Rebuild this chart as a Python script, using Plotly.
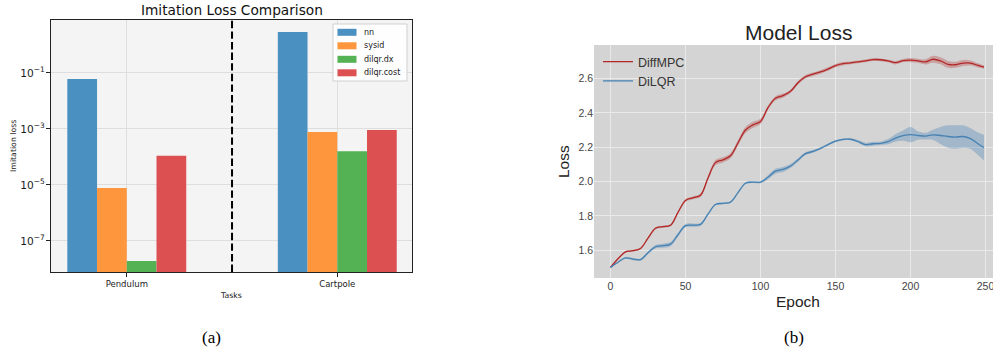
import plotly.graph_objects as go

# ---------------- data: (a) imitation loss ----------------
tasks = ["Pendulum", "Cartpole"]
methods = ["nn", "sysid", "dilqr.dx", "dilqr.cost"]
loss_nn = [6.1e-2, 2.9]
loss_sysid = [7.8e-6, 7.8e-4]
loss_dilqr_dx = [1.9e-8, 1.6e-4]
loss_dilqr_cost = [1.1e-4, 9.2e-4]
bar_colors = ["rgb(74,144,193)", "rgb(253,150,60)", "rgb(84,177,84)", "rgb(220,80,81)"]

# ---------------- data: (b) model loss ----------------
epochs = [0, 5, 10, 15, 20, 25, 30, 35, 40, 45, 50, 55, 60, 65, 70, 75, 80, 85, 90, 95,
          100, 105, 110, 115, 120, 125, 130, 135, 140, 145, 150, 155, 160, 165, 170, 175,
          180, 185, 190, 195, 200, 205, 210, 215, 220, 225, 230, 235, 240, 245, 249]
diffmpc_mean = [1.50, 1.55, 1.59, 1.597, 1.61, 1.67, 1.728, 1.737, 1.745, 1.82, 1.89, 1.905,
                1.92, 2.02, 2.11, 2.126, 2.15, 2.225, 2.30, 2.33, 2.35, 2.43, 2.485, 2.50,
                2.525, 2.575, 2.61, 2.625, 2.638, 2.655, 2.675, 2.686, 2.691, 2.697, 2.703,
                2.710, 2.709, 2.703, 2.692, 2.704, 2.707, 2.703, 2.697, 2.712, 2.703, 2.682,
                2.680, 2.690, 2.690, 2.676, 2.666]
diffmpc_std = [0.003, 0.004, 0.005, 0.005, 0.005, 0.006, 0.006, 0.006, 0.006, 0.006, 0.008,
               0.008, 0.010, 0.012, 0.015, 0.015, 0.015, 0.015, 0.018, 0.018, 0.015, 0.012,
               0.012, 0.012, 0.010, 0.010, 0.010, 0.010, 0.010, 0.010, 0.010, 0.010, 0.008,
               0.008, 0.008, 0.008, 0.008, 0.008, 0.010, 0.010, 0.012, 0.012, 0.015, 0.020,
               0.020, 0.020, 0.018, 0.018, 0.015, 0.012, 0.010]
dilqr_mean = [1.50, 1.53, 1.555, 1.548, 1.545, 1.585, 1.62, 1.626, 1.635, 1.69, 1.743, 1.746,
              1.75, 1.81, 1.866, 1.873, 1.88, 1.935, 1.99, 1.996, 1.996, 2.025, 2.06, 2.07,
              2.09, 2.125, 2.162, 2.175, 2.193, 2.215, 2.235, 2.245, 2.246, 2.233, 2.215,
              2.220, 2.222, 2.232, 2.253, 2.267, 2.273, 2.268, 2.264, 2.272, 2.268, 2.262,
              2.259, 2.262, 2.25, 2.22, 2.198]
dilqr_std = [0.003, 0.004, 0.005, 0.006, 0.006, 0.008, 0.010, 0.012, 0.012, 0.010, 0.010,
             0.010, 0.008, 0.006, 0.005, 0.005, 0.005, 0.005, 0.005, 0.005, 0.006, 0.012,
             0.015, 0.015, 0.012, 0.010, 0.008, 0.008, 0.006, 0.006, 0.006, 0.006, 0.006,
             0.008, 0.010, 0.012, 0.010, 0.015, 0.022, 0.030, 0.045, 0.025, 0.020, 0.030,
             0.050, 0.065, 0.068, 0.065, 0.060, 0.065, 0.075]
x_ticks_b = [0, 50, 100, 150, 200, 250]

LEFT_FONT = "DejaVu Sans"
RIGHT_FONT = "Liberation Sans"

fig = go.Figure()

# ---- (a) bars ----
for name, vals, col in zip(methods, [loss_nn, loss_sysid, loss_dilqr_dx, loss_dilqr_cost], bar_colors):
    fig.add_trace(go.Bar(x=tasks, y=vals, name=name, marker=dict(color=col, line=dict(width=0)),
                         xaxis="x", yaxis="y", showlegend=False))

# ---- (b) lines with bands ----
def band(mean, std, line_col, fill_col, name):
    upper = [m + s for m, s in zip(mean, std)]
    lower = [m - s for m, s in zip(mean, std)]
    fig.add_trace(go.Scatter(x=epochs, y=upper, mode="lines", line=dict(width=0, shape="spline"),
                             showlegend=False, hoverinfo="skip", xaxis="x2", yaxis="y2"))
    fig.add_trace(go.Scatter(x=epochs, y=lower, mode="lines", line=dict(width=0, shape="spline"),
                             fill="tonexty", fillcolor=fill_col, showlegend=False,
                             hoverinfo="skip", xaxis="x2", yaxis="y2"))
    fig.add_trace(go.Scatter(x=epochs, y=mean, mode="lines", name=name,
                             line=dict(color=line_col, width=1.3, shape="spline"),
                             xaxis="x2", yaxis="y2", legend="legend2"))

band(diffmpc_mean, diffmpc_std, "rgb(178,40,40)", "rgba(178,40,40,0.3)", "DiffMPC")
band(dilqr_mean, dilqr_std, "rgb(70,130,180)", "rgba(70,130,180,0.35)", "DiLQR")

W, H = 993, 351
def px_x(p):
    return p / W
def px_y(p):
    return (H - p) / H

shapes = [
    dict(type="rect", xref="x domain", yref="y domain", x0=0, x1=1, y0=0, y1=1,
         fillcolor="#f4f4f4", line=dict(width=0), layer="below"),
    dict(type="line", xref="x", yref="y domain", x0=0.5, x1=0.5, y0=0, y1=1,
         line=dict(color="black", width=2, dash="7.4px,3.2px")),
    # legend box for (a)
    dict(type="rect", xref="paper", yref="paper", x0=px_x(333), x1=px_x(407),
         y0=px_y(81), y1=px_y(24), fillcolor="rgba(255,255,255,0.85)",
         line=dict(color="#d0d0d0", width=1)),
]
annotations = []
for i, (name, col) in enumerate(zip(methods, bar_colors)):
    cy = 32.3 + i * 13.5
    shapes.append(dict(type="rect", xref="paper", yref="paper", x0=px_x(337.5), x1=px_x(356.5),
                       y0=px_y(cy + 3.5), y1=px_y(cy - 3.5), fillcolor=col, line=dict(width=0)))
    annotations.append(dict(text=name, x=px_x(362), y=px_y(cy), xref="paper", yref="paper",
                            showarrow=False, xanchor="left", yanchor="middle",
                            font=dict(family=LEFT_FONT, size=8, color="#222")))

annotations += [
    dict(text="Imitation Loss Comparison", x=px_x(232), y=px_y(10), xref="paper", yref="paper",
         showarrow=False, font=dict(family=LEFT_FONT, size=13.7, color="#111"),
         xanchor="center", yanchor="middle"),
    dict(text="Imitation loss", x=px_x(13), y=px_y(146), xref="paper", yref="paper",
         showarrow=False, textangle=-90, font=dict(family=LEFT_FONT, size=7.8, color="#222"),
         xanchor="center", yanchor="middle"),
    dict(text="Tasks", x=px_x(231), y=px_y(295), xref="paper", yref="paper",
         showarrow=False, font=dict(family=LEFT_FONT, size=7.8, color="#222"),
         xanchor="center", yanchor="middle"),
    dict(text="Model Loss", x=px_x(798), y=px_y(32), xref="paper", yref="paper",
         showarrow=False, font=dict(family=RIGHT_FONT, size=21, color="#222"),
         xanchor="center", yanchor="middle"),
    dict(text="Loss", x=px_x(563), y=px_y(162), xref="paper", yref="paper",
         showarrow=False, textangle=-90, font=dict(family=RIGHT_FONT, size=15.5, color="#222"),
         xanchor="center", yanchor="middle"),
    dict(text="Epoch", x=px_x(798), y=px_y(301), xref="paper", yref="paper",
         showarrow=False, font=dict(family=RIGHT_FONT, size=15.5, color="#222"),
         xanchor="center", yanchor="middle"),
    dict(text="(a)", x=px_x(211), y=px_y(337), xref="paper", yref="paper",
         showarrow=False, font=dict(family="Liberation Serif", size=17, color="black"),
         xanchor="center", yanchor="middle"),
    dict(text="(b)", x=px_x(794), y=px_y(337), xref="paper", yref="paper",
         showarrow=False, font=dict(family="Liberation Serif", size=17, color="black"),
         xanchor="center", yanchor="middle"),
]

fig.update_layout(
    width=W, height=H,
    margin=dict(l=0, r=0, t=0, b=0),
    paper_bgcolor="white",
    plot_bgcolor="#d4d4d4",
    barmode="group",
    bargap=0.435,
    bargroupgap=0,
    showlegend=True,
    xaxis=dict(domain=[px_x(51), px_x(412)], anchor="y", type="category",
               range=[-0.36, 1.355], showline=True, mirror=True, linecolor="#222",
               linewidth=1.2, ticks="outside", ticklen=3.5, tickcolor="#222",
               showgrid=True, gridcolor="#dedede", gridwidth=1,
               tickfont=dict(family=LEFT_FONT, size=8.5, color="#222")),
    yaxis=dict(domain=[px_y(272), px_y(20)], anchor="x", type="log",
               range=[-8.11, 0.89], tick0=-1, dtick=2, exponentformat="power",
               showline=True, mirror=True, linecolor="#222", linewidth=1.2,
               ticks="outside", ticklen=3.5, tickcolor="#222",
               showgrid=True, gridcolor="#dedede", gridwidth=1,
               tickfont=dict(family=LEFT_FONT, size=8.5, color="#222")),
    xaxis2=dict(domain=[px_x(594), 1.0], anchor="y2", range=[-11, 255],
                tickvals=x_ticks_b, showgrid=True, gridcolor="#e9e9e9", gridwidth=1,
                zeroline=False, showline=False, ticks="", ticklabeloverflow="allow",
                tickfont=dict(family=RIGHT_FONT, size=10.5, color="#444")),
    yaxis2=dict(domain=[px_y(278), px_y(45)], anchor="x2", range=[1.438, 2.795],
                dtick=0.2, tick0=0, tickformat=".1f", showgrid=True, gridcolor="#e9e9e9",
                gridwidth=1, zeroline=False, showline=False, ticks="",
                tickfont=dict(family=RIGHT_FONT, size=10.5, color="#444")),
    legend2=dict(x=px_x(598), y=px_y(47), xanchor="left", yanchor="top",
                 bgcolor="rgba(0,0,0,0)", borderwidth=0,
                 font=dict(family=RIGHT_FONT, size=12.5, color="#333"),
                 tracegroupgap=0, itemwidth=30),
    shapes=shapes,
    annotations=annotations,
)

fig.write_html("out.html", config={"displayModeBar": False},
               post_script="document.body.style.margin='0px';")
